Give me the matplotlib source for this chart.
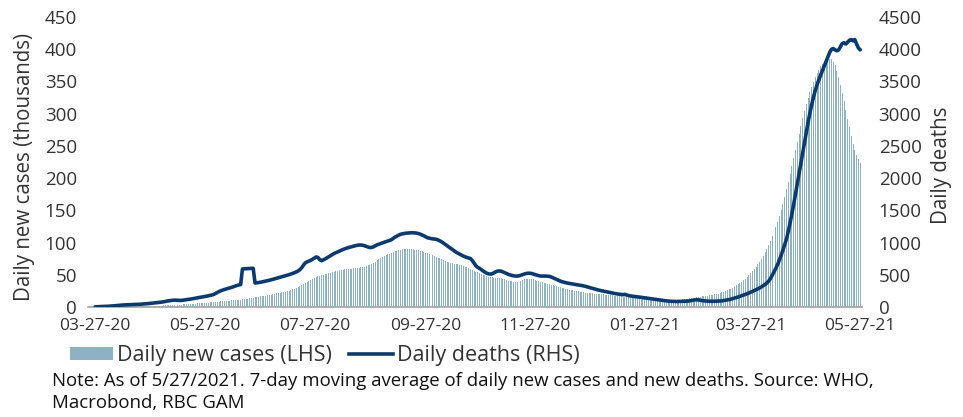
import matplotlib
matplotlib.use("Agg")
import matplotlib.pyplot as plt
import matplotlib.dates as mdates
from matplotlib.patches import Patch
from matplotlib.lines import Line2D
import pandas as pd

# ---- data: 7-day moving averages, one value per day ----
start_date = "2020-03-27"
end_date = "2021-05-27"
tick_dates = ["2020-03-27", "2020-05-27", "2020-07-27", "2020-09-27",
              "2020-11-27", "2021-01-27", "2021-03-27", "2021-05-27"]

# daily new cases, thousands (left axis)
cases_2020_03 = [0.08, 0.09, 0.10, 0.12, 0.14]
cases_2020_04 = [0.2, 0.27, 0.33, 0.39, 0.45, 0.5, 0.56, 0.6, 0.65, 0.7,
                 0.75, 0.8, 0.85, 0.9, 0.95, 1.0, 1.05, 1.1, 1.2, 1.3,
                 1.35, 1.4, 1.45, 1.5, 1.6, 1.62, 1.65, 1.68, 1.72, 1.75]
cases_2020_05 = [1.9, 2.1, 2.3, 2.5, 2.7, 2.9, 3.0, 3.1, 3.3, 3.4,
                 3.5, 3.6, 3.7, 3.8, 3.9, 4.1, 4.3, 4.5, 4.7, 4.9,
                 5.1, 5.4, 5.6, 5.8, 6.0, 6.2, 6.4, 6.6, 6.9, 7.2, 7.5]
cases_2020_06 = [7.8, 8.0, 8.3, 8.5, 8.8, 9.0, 9.3, 9.5, 9.7, 9.9,
                 10.1, 10.4, 10.6, 10.8, 11.1, 11.4, 11.8, 12.2, 12.6, 13.0,
                 13.4, 13.8, 14.3, 14.8, 15.2, 15.8, 16.3, 16.8, 17.2, 17.6]
cases_2020_07 = [18.2, 18.7, 19.2, 19.8, 20.4, 21.0, 21.6, 22.2, 22.8, 23.4,
                 24.0, 24.7, 25.5, 26.4, 27.4, 28.5, 29.7, 31.0, 32.4, 33.9,
                 35.5, 37.2, 39.0, 40.8, 42.4, 43.9, 45.2, 46.4, 47.5, 48.5, 49.4]
cases_2020_08 = [50.2, 51.0, 51.8, 52.6, 53.4, 54.2, 55.0, 55.7, 56.4, 57.0,
                 57.5, 57.9, 58.3, 58.6, 58.9, 59.2, 59.5, 59.8, 60.2, 60.6,
                 61.0, 61.5, 62.0, 62.6, 63.4, 64.4, 65.6, 67.0, 68.6, 70.4, 72.4]
cases_2020_09 = [74.4, 76.2, 77.8, 79.2, 80.5, 81.7, 82.8, 84.0, 85.2, 86.4,
                 87.5, 88.4, 89.2, 89.8, 90.2, 90.4, 90.4, 90.2, 89.9, 89.5,
                 89.0, 88.4, 87.7, 87.0, 86.2, 85.3, 84.3, 83.2, 82.1, 81.0]
cases_2020_10 = [80.0, 79.0, 78.0, 76.8, 75.5, 74.2, 72.9, 71.7, 70.6, 69.6,
                 68.8, 68.1, 67.4, 66.7, 66.0, 65.3, 64.6, 63.7, 62.6, 61.4,
                 60.1, 58.8, 57.5, 56.2, 55.0, 53.8, 52.6, 51.4, 50.3, 49.2, 48.2]
cases_2020_11 = [47.2, 46.4, 45.8, 45.4, 45.2, 45.0, 44.8, 44.4, 43.8, 43.0,
                 42.0, 41.0, 40.2, 39.6, 39.2, 39.0, 39.3, 40.0, 41.0, 42.0,
                 42.8, 43.4, 43.8, 43.8, 43.4, 42.7, 41.9, 41.0, 40.2, 39.4]
cases_2020_12 = [38.6, 37.8, 37.0, 36.2, 35.4, 34.6, 33.8, 33.0, 32.2, 31.4,
                 30.6, 29.8, 29.0, 28.3, 27.6, 27.0, 26.4, 25.8, 25.2, 24.7,
                 24.2, 23.7, 23.3, 22.9, 22.5, 22.1, 21.7, 21.3, 21.0, 20.7, 20.4]
cases_2021_01 = [20.1, 19.9, 19.7, 19.5, 19.2, 18.9, 18.6, 18.3, 18.0, 17.7,
                 17.4, 17.1, 16.8, 16.5, 16.2, 15.9, 15.6, 15.3, 15.0, 14.7,
                 14.4, 14.1, 13.9, 13.7, 13.5, 13.3, 13.1, 12.9, 12.7, 12.5, 12.3]
cases_2021_02 = [12.1, 11.9, 11.7, 11.5, 11.3, 11.1, 11.0, 10.9, 10.9, 10.9,
                 11.0, 11.1, 11.2, 11.3, 11.4, 11.6, 11.8, 12.1, 12.4, 12.8,
                 13.2, 13.6, 14.0, 14.5, 15.0, 15.5, 16.0, 16.4]
cases_2021_03 = [16.8, 17.2, 17.6, 18.0, 18.5, 19.0, 19.6, 20.2, 20.9, 21.7,
                 22.6, 23.6, 24.7, 25.9, 27.2, 28.6, 30.1, 31.7, 33.4, 35.2,
                 37.1, 39.1, 41.3, 43.7, 46.3, 49.1, 52.1, 55.3, 58.7, 62.3, 66.1]
cases_2021_04 = [70.2, 74.6, 79.4, 84.6, 90.2, 96.2, 102.6, 109.4, 116.6, 124.2,
                 132.4, 141.2, 150.6, 160.6, 171.2, 182.4, 194.0, 206.0, 218.4, 231.0,
                 243.8, 256.6, 269.2, 281.4, 293.0, 304.0, 314.4, 324.2, 333.4, 342.0]
cases_2021_05 = [349.8, 356.6, 362.8, 368.4, 373.4, 377.8, 381.4, 384.0, 385.4, 385.6,
                 384.2, 380.8, 375.0, 366.8, 356.6, 345.0, 332.4, 319.2, 305.6, 292.0,
                 278.6, 265.6, 253.2, 243.4, 236.0, 229.6, 224.0]

# daily deaths (right axis)
deaths_2020_03 = [3, 4, 5, 5, 6]
deaths_2020_04 = [7, 9, 11, 13, 15, 17, 19, 22, 25, 28, 30, 32, 33, 35, 36,
                  37, 38, 39, 40, 41, 43, 45, 47, 49, 51, 54, 57, 60, 63, 66]
deaths_2020_05 = [70, 73, 76, 80, 86, 92, 96, 100, 104, 106, 106, 104, 102, 103, 106,
                  110, 114, 118, 122, 127, 132, 137, 142, 147, 152, 157, 162, 168, 174, 180, 186]
deaths_2020_06 = [195, 210, 225, 240, 252, 262, 272, 280, 288, 296, 305, 315, 325, 335, 342,
                  348, 590, 592, 594, 596, 598, 600, 600, 372, 376, 380, 384, 390, 396, 402]
deaths_2020_07 = [408, 415, 422, 430, 438, 446, 454, 462, 470, 478, 486, 494, 502, 512, 522,
                  532, 545, 560, 580, 610, 650, 685, 700, 712, 725, 740, 758, 776, 770, 735, 718]
deaths_2020_08 = [730, 745, 762, 780, 798, 815, 830, 842, 855, 868, 880, 892, 903, 913, 922,
                  930, 938, 945, 952, 958, 962, 962, 958, 950, 940, 930, 922, 925, 935, 950, 965]
deaths_2020_09 = [975, 985, 995, 1005, 1015, 1025, 1032, 1045, 1065, 1085, 1100, 1115, 1128, 1135, 1140,
                  1145, 1148, 1150, 1152, 1152, 1150, 1146, 1140, 1130, 1118, 1105, 1090, 1075, 1068, 1062]
deaths_2020_10 = [1058, 1055, 1050, 1040, 1025, 1010, 990, 970, 950, 930, 910, 890, 870, 850, 835,
                  820, 805, 790, 778, 768, 760, 752, 720, 680, 640, 615, 600, 580, 560, 540, 525]
deaths_2020_11 = [515, 510, 515, 530, 545, 556, 560, 556, 545, 532, 520, 508, 498, 490, 484,
                  480, 480, 484, 492, 502, 512, 520, 524, 524, 520, 512, 502, 494, 486, 480]
deaths_2020_12 = [480, 480, 480, 478, 475, 465, 452, 440, 428, 415, 402, 392, 384, 377, 371,
                  366, 361, 356, 351, 346, 342, 338, 333, 327, 320, 312, 304, 296, 288, 280, 272]
deaths_2021_01 = [265, 258, 252, 246, 240, 234, 228, 222, 216, 211, 206, 202, 198, 194, 192,
                  196, 185, 178, 172, 168, 164, 160, 157, 154, 150, 146, 142, 138, 134, 130, 126]
deaths_2021_02 = [122, 118, 114, 110, 106, 102, 98, 95, 92, 90, 88, 87, 86, 86,
                  86, 87, 88, 89, 90, 92, 95, 100, 105, 110, 112, 110, 106, 100]
deaths_2021_03 = [96, 93, 91, 90, 89, 89, 90, 90, 91, 93, 96, 100, 105, 110, 116,
                  122, 130, 138, 146, 155, 165, 175, 185, 195, 205, 217, 230, 242, 255, 268, 282]
deaths_2021_04 = [296, 312, 330, 350, 372, 400, 440, 490, 545, 600, 660, 730, 805, 885, 970,
                  1060, 1180, 1310, 1450, 1600, 1760, 1920, 2080, 2240, 2400, 2560, 2720, 2870, 3010, 3140]
deaths_2021_05 = [3260, 3360, 3450, 3530, 3600, 3670, 3740, 3810, 3880, 3950, 4000, 4010, 3990, 3975,
                  3990, 4040, 4090, 4100, 4080, 4110, 4140, 4150, 4130, 4150, 4080, 4020, 3990]

cases = (cases_2020_03 + cases_2020_04 + cases_2020_05 + cases_2020_06 + cases_2020_07
         + cases_2020_08 + cases_2020_09 + cases_2020_10 + cases_2020_11 + cases_2020_12
         + cases_2021_01 + cases_2021_02 + cases_2021_03 + cases_2021_04 + cases_2021_05)
deaths = (deaths_2020_03 + deaths_2020_04 + deaths_2020_05 + deaths_2020_06 + deaths_2020_07
          + deaths_2020_08 + deaths_2020_09 + deaths_2020_10 + deaths_2020_11 + deaths_2020_12
          + deaths_2021_01 + deaths_2021_02 + deaths_2021_03 + deaths_2021_04 + deaths_2021_05)
dates = pd.date_range(start_date, end_date, freq="D")

# ---- styling ----
BAR_COLOR = "#8db2c4"
LINE_COLOR = "#0b3a6e"
TEXT_COLOR = "#333333"
AXIS_COLOR = "#a8a8a8"

plt.rcParams["font.family"] = ["Open Sans", "DejaVu Sans"]

fig = plt.figure(figsize=(9.63, 4.17), dpi=100)
ax = fig.add_axes([88 / 963, 1 - 307 / 417, (862 - 88) / 963, 290 / 417])

ax.bar(dates, cases, width=0.55, color=BAR_COLOR, linewidth=0, align="center")
ax.set_ylim(0, 450)
ax.set_yticks(range(0, 451, 50))
ax.set_xlim(dates[0] - pd.Timedelta(days=4), dates[-1] + pd.Timedelta(days=1))
ax.set_xticks(pd.to_datetime(tick_dates))
ax.xaxis.set_major_formatter(mdates.DateFormatter("%m-%d-%y"))

ax2 = ax.twinx()
ax2.plot(dates, deaths, color=LINE_COLOR, lw=2.6, solid_joinstyle="round",
         solid_capstyle="round")
ax2.set_ylim(0, 4500)
ax2.set_yticks(range(0, 4501, 500))

for a in (ax, ax2):
    for side in ("top", "left", "right"):
        a.spines[side].set_visible(False)
ax2.spines["bottom"].set_visible(False)
ax.spines["bottom"].set_color(AXIS_COLOR)
ax.spines["bottom"].set_linewidth(1.3)

ax.tick_params(axis="x", length=0, pad=8, labelsize=12.5, labelcolor=TEXT_COLOR)
ax.tick_params(axis="y", length=0, pad=8, labelsize=13.5, labelcolor=TEXT_COLOR)
ax2.tick_params(axis="y", length=0, pad=12, labelsize=13.5, labelcolor=TEXT_COLOR)

fig.text(25 / 963, 1 - 167 / 417, "Daily new cases (thousands)", rotation=90,
         ha="center", va="center", fontsize=14.8, color=TEXT_COLOR)
fig.text(941 / 963, 1 - 165 / 417, "Daily deaths", rotation=90,
         ha="center", va="center", fontsize=14.8, color=TEXT_COLOR)

handles = [Patch(facecolor=BAR_COLOR, edgecolor="none"),
           Line2D([0], [0], color=LINE_COLOR, lw=2.6)]
labels = ["Daily new cases (LHS)", "Daily deaths (RHS)"]
fig.legend(handles, labels, loc="center left", bbox_to_anchor=(70 / 963, 1 - 356 / 417),
           ncol=2, frameon=False, fontsize=15.5, handlelength=2.0, handleheight=0.55,
           handletextpad=0.2, columnspacing=0.8, borderpad=0, borderaxespad=0,
           labelcolor=TEXT_COLOR)

fig.text(52 / 963, 1 - 392 / 417,
         "Note: As of 5/27/2021. 7-day moving average of daily new cases and new deaths. Source: WHO,\n"
         "Macrobond, RBC GAM",
         ha="left", va="center", fontsize=13.4, color="#111111", linespacing=1.3)

fig.savefig("out.png", dpi=100)
